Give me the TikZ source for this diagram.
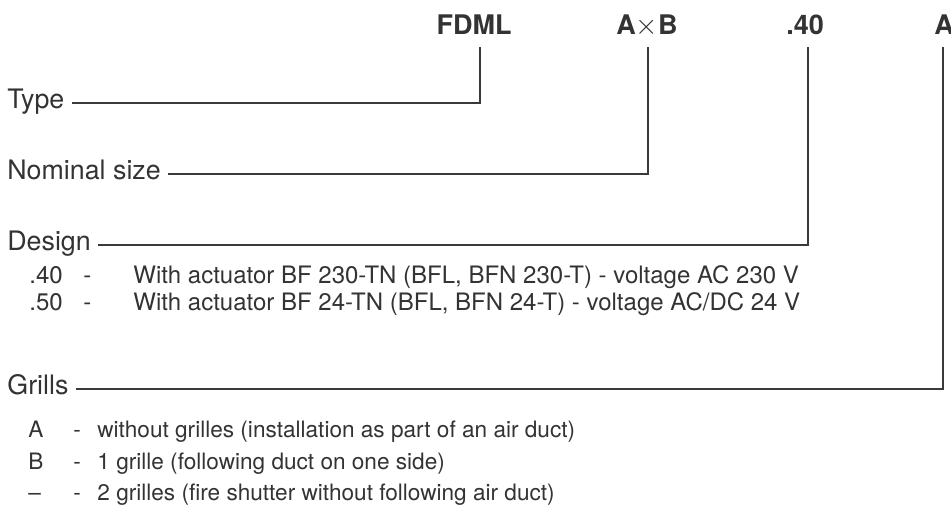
\documentclass[tikz,border=0pt]{standalone}
\usepackage{fontspec}
\setmainfont{TeX Gyre Heros}
\usepackage{xcolor}
\definecolor{vtext}{HTML}{333333}
\definecolor{vline}{HTML}{3a3a3a}

\begin{document}
\begin{tikzpicture}[x=0.5pt, y=-0.5pt,
		lbl/.style={anchor=mid west, inner xsep=3.5pt, inner ysep=0pt, text=vtext, font=\fontsize{13.4}{15}\selectfont},
		hdr/.style={anchor=base, inner sep=0pt, text depth=0pt, text=vtext, font=\fontsize{13.5}{15}\selectfont\bfseries},
		item/.style={anchor=base west, inner sep=0pt, text=vtext, font=\fontsize{12}{14}\selectfont},
		gitem/.style={item, font=\fontsize{11.3}{14}\selectfont},
		lead/.style={color=vline, line width=0.75pt}]
		\useasboundingbox (0,0) rectangle (951,504);
		% designation
		\node[hdr] (fdml) at (474,34) {FDML};
		\node[hdr] (size) at (647,34) {A$\times$B};
		\node[hdr] (design) at (805,34) {.40};
		\node[hdr] (grill) at (944,34) {A};
		\coordinate (tfdml)	 at (480,47);
		\coordinate (tsize)	 at (648,47);
		\coordinate (tdesign)	 at (808,47);
		\coordinate (tgrill)	 at (943,47);
		% labels
		\node[lbl] (type) at (0,103) {Type};
		\node[lbl] (nominal) at (0,174) {Nominal size};
		\node[lbl] (desg) at (0,245) {Design};
		\node[lbl] (grills) at (0,389) {Grills};
		\draw[lead] (type.mid east) -| (tfdml);
		\draw[lead] (nominal.mid east) -| (tsize);
		\draw[lead] (desg.mid east) -| (tdesign);
		\draw[lead] (grills.mid east) -| (tgrill);
		% design items
		\node[item] (dcode1) at (29,283) {.40};
		\node[item] (ddash1) at (83,283) {-};
		\node[item] (dtext1) at (133,283) {With actuator BF 230-TN (BFL, BFN 230-T) - voltage AC 230 V};
		\node[item] (dcode2) at (29,310) {.50};
		\node[item] (ddash2) at (83,310) {-};
		\node[item] (dtext2) at (133,310) {With actuator BF 24-TN (BFL, BFN 24-T) - voltage AC/DC 24 V};
		% grille items
		\node[gitem] (gcode1) at (28,437) {A};
		\node[gitem] (gdash1) at (73,437) {-};
		\node[gitem] (gtext1) at (97,437) {without grilles (installation as part of an air duct)};
		\node[gitem] (gcode2) at (28,469) {B};
		\node[gitem] (gdash2) at (73,469) {-};
		\node[gitem] (gtext2) at (97,469) {1 grille (following duct on one side)};
		\node[gitem] (gcode3) at (28,500) {–};
		\node[gitem] (gdash3) at (73,500) {-};
		\node[gitem] (gtext3) at (97,500) {2 grilles (fire shutter without following air duct)};
	\end{tikzpicture}
\end{document}
